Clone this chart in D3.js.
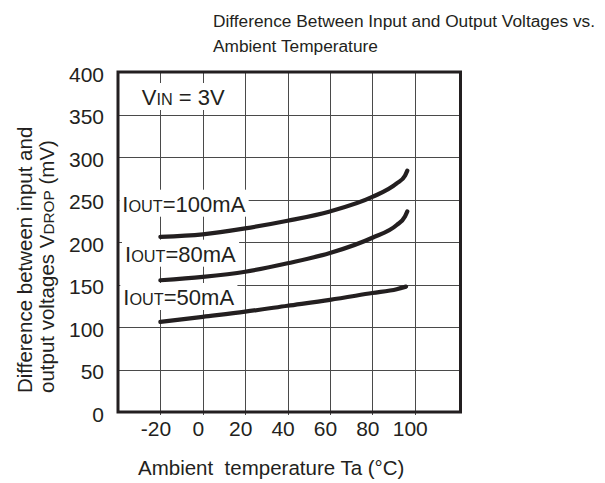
<!DOCTYPE html>
<html><head><meta charset="utf-8">
<script src="https://cdn.jsdelivr.net/npm/d3@7"></script>
<style>
body{margin:0;background:#fff;}
svg text{font-family:"Liberation Sans",Arial,Helvetica,sans-serif;fill:#231f20;}
</style></head><body>
<svg id="c" width="605" height="483"></svg>
<script>
// ---- data ----
const xTicks = [-20, 0, 20, 40, 60, 80, 100];
const yTicks = [0, 50, 100, 150, 200, 250, 300, 350, 400];
const temps100 = [-20, 0, 20, 40, 60, 80, 91.5, 95.4, 96.5];
const vdrop100 = [206, 209, 216, 225, 236, 253, 269, 278, 284];
const temps80 = [-20, 0, 20, 40, 60, 80, 91.5, 95.4, 96.5];
const vdrop80 = [155, 159, 165, 175, 187, 205, 220, 230, 236];
const temps50 = [-20, 0, 20, 40, 60, 80, 91.5, 95.9];
const vdrop50 = [106, 112, 118, 125, 132, 140, 144.5, 147.5];
const seriesNames = ["100mA", "80mA", "50mA"];
const titleLines = ["Difference Between Input and Output Voltages vs.", "Ambient Temperature"];

const svg = d3.select("#c");
const ink = "#231f20";
const x = d3.scaleLinear().domain([-40, 121.6]).range([118, 460.5]);
const y = d3.scaleLinear().domain([0, 400]).range([412, 72]);

// title
svg.append("g").selectAll("text").data(titleLines).join("text")
  .attr("x", 213).attr("y", (d, i) => 26.5 + i * 25)
  .attr("font-size", 17.3).text(d => d);

// grid
const grid = svg.append("g").attr("stroke", "#4a4a4a").attr("stroke-width", 1);
grid.selectAll("line.v").data(xTicks).join("line").attr("class", "v")
  .attr("x1", d => Math.round(x(d)) + 0.5).attr("x2", d => Math.round(x(d)) + 0.5)
  .attr("y1", y(400)).attr("y2", y(0) + 3);
grid.selectAll("line.h").data(yTicks.slice(1, -1)).join("line").attr("class", "h")
  .attr("y1", d => Math.round(y(d)) + 0.5).attr("y2", d => Math.round(y(d)) + 0.5)
  .attr("x1", x.range()[0]).attr("x2", x.range()[1]);

// axes tick labels
const gx = svg.append("g").attr("transform", `translate(0,${y(0)})`)
  .call(d3.axisBottom(x).tickValues(xTicks).tickSize(0).tickFormat(d => String(d)));
gx.attr("font-size", null).attr("font-family", null);
gx.select(".domain").remove();
gx.selectAll("text").attr("font-size", 21).attr("y", 24).attr("dy", 0).attr("dx", -5).attr("fill", ink);

const gy = svg.append("g").attr("transform", `translate(${x.range()[0]},0)`)
  .call(d3.axisLeft(y).tickValues(yTicks).tickSize(0).tickPadding(14).tickFormat(d => String(d)));
gy.attr("font-size", null).attr("font-family", null);
gy.select(".domain").remove();
gy.selectAll("text").attr("font-size", 21).attr("dy", "0.45em").attr("fill", ink);

// axis titles
svg.append("text").attr("x", 138).attr("y", 475).attr("font-size", 20.5)
  .style("white-space", "pre").text("Ambient  temperature Ta (°C)");

const yt = svg.append("g").attr("font-size", 20.5);
yt.append("text").attr("transform", "translate(32,393) rotate(-90)").text("Difference between input and");
const yt2 = yt.append("text").attr("transform", "translate(54,393) rotate(-90)");
yt2.append("tspan").text("output voltages V");
yt2.append("tspan").attr("font-size", "0.75em").text("DROP");
yt2.append("tspan").text(" (mV)");

// label helper with white background
function boxedLabel(px, py, parts) {
  const g = svg.append("g");
  const rect = g.append("rect").attr("fill", "#fff");
  const t = g.append("text").attr("x", px).attr("y", py).attr("font-size", 22).style("white-space", "pre");
  parts.forEach(p => t.append("tspan").attr("font-size", p[1] ? "0.74em" : null).text(p[0]));
  const b = t.node().getBBox();
  rect.attr("x", b.x - 3).attr("y", b.y - 2).attr("width", b.width + 6).attr("height", b.height + 2);
  return g;
}
boxedLabel(141.7, 105, [["V", 0], ["IN", 1], [" = 3V", 0]]);
const labelPos = [[122.3, 211.7], [125, 261.7], [123.3, 305]];
seriesNames.forEach((n, i) => boxedLabel(labelPos[i][0], labelPos[i][1], [["I", 0], ["OUT", 1], ["=" + n, 0]]));

// curves
const line = d3.line().x(d => x(d[0])).y(d => y(d[1])).curve(d3.curveMonotoneX);
const series = [d3.zip(temps100, vdrop100), d3.zip(temps80, vdrop80), d3.zip(temps50, vdrop50)];
svg.append("g").selectAll("path").data(series).join("path")
  .attr("d", line).attr("fill", "none").attr("stroke", ink)
  .attr("stroke-width", 4.2).attr("stroke-linecap", "round");

// frame
svg.append("rect")
  .attr("x", x.range()[0]).attr("y", y.range()[1])
  .attr("width", x.range()[1] - x.range()[0]).attr("height", y.range()[0] - y.range()[1])
  .attr("fill", "none").attr("stroke", ink).attr("stroke-width", 3);
</script>
</body></html>
